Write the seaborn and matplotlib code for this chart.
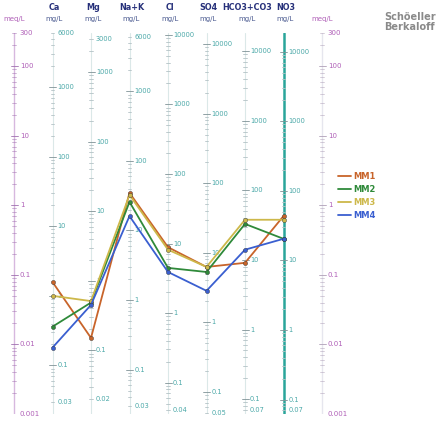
import numpy as np
import pandas as pd
import seaborn as sns
import matplotlib
matplotlib.use("Agg")
from matplotlib import pyplot as plt

# Schoeller-Berkaloff diagram, values in meq/L
ions = ["Ca", "Mg", "Na+K", "Cl", "SO4", "HCO3+CO3", "NO3"]
eq_weights = [20.04, 12.15, 23.0, 35.45, 48.03, 61.02, 62.0]
top_labels = ["6000", "3000", "6000", "10000", "10000", "10000", "10000"]
bottom_labels = ["0.03", "0.02", "0.03", "0.04", "0.05", "0.07", "0.07"]
meq_labels = ["300", "100", "10", "1", "0.1", "0.01", "0.001"]

samples = ["MM1", "MM2", "MM3", "MM4"]
mm1 = [0.079, 0.0124, 1.51, 0.25, 0.13, 0.149, 0.70]
mm2 = [0.018, 0.040, 1.12, 0.126, 0.11, 0.54, 0.33]
mm3 = [0.050, 0.042, 1.41, 0.23, 0.13, 0.62, 0.62]
mm4 = [0.009, 0.037, 0.70, 0.11, 0.059, 0.23, 0.33]
colors = ["#c8642a", "#2f8a3a", "#cdb84a", "#3a5fd0"]

rows = []
for name, vals in zip(samples, [mm1, mm2, mm3, mm4]):
    for i, v in enumerate(vals):
        rows.append({"sample": name, "pos": i + 1, "meq": v})
df = pd.DataFrame(rows)

sns.set_style("white")
fig = plt.figure(figsize=(4.45, 4.23), dpi=100)
ax = fig.add_axes([0, 9 / 423, 1, 381 / 423])
px = 38.5  # pixels per column
ax.set_xlim(-14 / px, (445 - 14) / px)
ax.set_yscale("log")
ax.set_ylim(0.001, 300)
ax.axis("off")

tlen = 3.5 / px
mg_col = "#4aa8a8"
meq_col = "#b060b8"


def meq_axis(x, line_col, tick_col):
    ax.plot([x, x], [0.001, 300], color=line_col, lw=1.0, zorder=1)
    for k in range(-3, 3):
        for m in range(1, 10):
            v = m * 10.0 ** k
            if v > 300:
                continue
            L = tlen * (1.0 if m == 1 else 0.55)
            ax.plot([x - L, x + L], [v, v], color=tick_col, lw=0.6,
                    alpha=1.0 if m == 1 else 0.6, zorder=1)
    for lab in meq_labels:
        ax.text(x + 0.15, float(lab), lab, fontsize=5, color=meq_col,
                va="center", ha="left")
    ax.text(x, 1.037, "meq/L", transform=ax.get_xaxis_transform(),
            fontsize=5, color=meq_col, ha="center", va="center", clip_on=False)


meq_axis(0, "#d7b8df", "#a070b0")
meq_axis(8, "#e6e6ee", "#b0a0b8")

for i, (ion, w) in enumerate(zip(ions, eq_weights)):
    x = i + 1
    lo, hi = 0.001 * w, 300 * w
    if ion == "NO3":
        ax.plot([x, x], [0.001, 300], color="#2aa59a", lw=1.8, zorder=1)
    else:
        ax.plot([x, x], [0.001, 300], color="#dbe8e8", lw=0.8, zorder=1)
    majors = []
    for k in range(int(np.floor(np.log10(lo))), int(np.ceil(np.log10(hi))) + 1):
        for m in range(1, 10):
            v = m * 10.0 ** k
            if v < lo or v > hi:
                continue
            L = tlen * (1.0 if m == 1 else 0.55)
            ax.plot([x - L, x + L], [v / w, v / w],
                    color="#7f9296" if m == 1 else "#b4c2c6", lw=0.6, zorder=1)
            if m == 1:
                majors.append(v)
                ax.text(x + 0.13, v / w, "%g" % v, fontsize=4.8, color=mg_col,
                        va="center", ha="left")
    for lab in [top_labels[i], bottom_labels[i]]:
        if float(lab) not in majors:
            ax.text(x + 0.13, float(lab) / w, lab, fontsize=4.8, color=mg_col,
                    va="center", ha="left")
    ax.text(x + 0.05, 1.066, ion, transform=ax.get_xaxis_transform(),
            fontsize=5.8, fontweight="bold", color="#26307a", ha="center",
            va="center", clip_on=False)
    ax.text(x + 0.05, 1.037, "mg/L", transform=ax.get_xaxis_transform(),
            fontsize=5, color="#4a5a90", ha="center", va="center", clip_on=False)

sns.lineplot(data=df, x="pos", y="meq", hue="sample", palette=colors,
             marker="o", markersize=3, markeredgecolor="#333333",
             markeredgewidth=0.3, lw=1.3, sort=False, ax=ax, zorder=3)

leg = ax.legend(loc="center left", bbox_to_anchor=(330 / 445, 0.572),
                frameon=False, handlelength=1.6, handletextpad=0.35,
                labelspacing=0.5, labelcolor="linecolor",
                prop={"weight": "bold", "size": 6})
for h in leg.get_lines():
    h.set_marker("")

fig.text(384 / 445, 1 - 22 / 423, "Schöeller\nBerkaloff", fontsize=7,
         fontweight="bold", color="#8a8a8a", ha="left", va="center",
         linespacing=1.1)

fig.savefig("out.png", dpi=100)
